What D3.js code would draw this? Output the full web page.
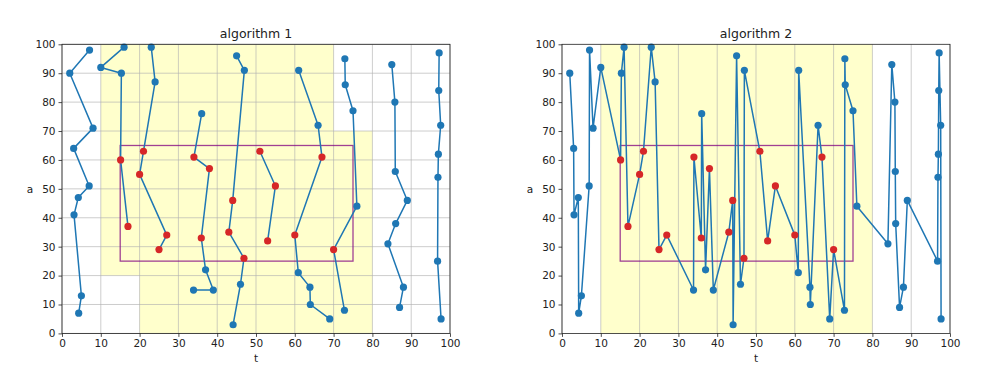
<!DOCTYPE html>
<html>
<head>
<meta charset="utf-8">
<script src="https://cdn.jsdelivr.net/npm/d3@7"></script>
<style>
  body { margin: 0; background: #fff; }
  text { font-family: "DejaVu Sans", sans-serif; }
</style>
</head>
<body>
<div id="chart"></div>
<script>
// point positions (t, a) and the column each belongs to
var tValues = [
  7.1, 2, 8, 3.0, 7.0, 4.2, 3.1, 5, 4.3,
  16, 10, 15.3, 15.1, 17,
  23, 24, 21, 20, 27, 25,
  36.0, 34.0, 38, 35.9, 37, 39, 33.9,
  45, 47.0, 44.0, 43, 46.9, 46, 44.1,
  51, 55, 53,
  61.0, 66, 67, 60, 60.9, 63.9, 64.0, 69,
  72.9, 73.0, 75, 76, 70, 72.8,
  85, 85.8, 85.9, 89, 86.0, 84, 88, 87,
  97.2, 97.1, 97.6, 97.0, 96.9, 96.8, 97.7
];
var aValues = [
  98, 90, 71, 64, 51, 47, 41, 13, 7,
  99, 92, 90, 60, 37,
  99, 87, 63, 55, 34, 29,
  76, 61, 57, 33, 22, 15, 15,
  96, 91, 46, 35, 26, 17, 3,
  63, 51, 32,
  91, 72, 61, 34, 21, 16, 10, 5,
  95, 86, 77, 44, 29, 8,
  93, 80, 56, 46, 38, 31, 16, 9,
  97, 84, 72, 62, 54, 25, 5
];
var columnIds = [
  0, 0, 0, 0, 0, 0, 0, 0, 0,
  1, 1, 1, 1, 1,
  2, 2, 2, 2, 2, 2,
  3, 3, 3, 3, 3, 3, 3,
  4, 4, 4, 4, 4, 4, 4,
  5, 5, 5,
  6, 6, 6, 6, 6, 6, 6, 6,
  7, 7, 7, 7, 7, 7,
  8, 8, 8, 8, 8, 8, 8, 8,
  9, 9, 9, 9, 9, 9, 9
];

var tickValues = [0, 10, 20, 30, 40, 50, 60, 70, 80, 90, 100];

// shaded zones (polygon corners)
var zone1T = [10, 70, 70, 80, 80, 20, 20, 10];
var zone1A = [100, 100, 70, 70, 0, 0, 20, 20];
var zone2T = [10, 80, 80, 10];
var zone2A = [100, 100, 0, 0];

// query box
var boxT = [15, 75];
var boxA = [25, 65];

var titles = ["algorithm 1", "algorithm 2"];

var points = tValues.map(function(t, i) {
  return {t: t, a: aValues[i], col: columnIds[i]};
});
points.forEach(function(d) {
  d.inBox = d.t >= boxT[0] && d.t <= boxT[1] && d.a >= boxA[0] && d.a <= boxA[1];
});

// algorithm 1: each column walked from top to bottom
var paths1 = d3.groups(points, function(d) { return d.col; })
  .map(function(g) { return g[1].slice().sort(function(p, q) { return q.a - p.a; }); });
// algorithm 2: everything walked by t
var paths2 = [points.slice().sort(function(p, q) { return p.t - q.t; })];

var width = 1000, height = 375;
var svg = d3.select("#chart").append("svg")
  .attr("width", width)
  .attr("height", height);

svg.append("rect").attr("width", width).attr("height", height).attr("fill", "#fff");

var panels = [
  {left: 62, title: titles[0], paths: paths1, zoneT: zone1T, zoneA: zone1A, hGrid: true},
  {left: 562, title: titles[1], paths: paths2, zoneT: zone2T, zoneA: zone2A, hGrid: false}
];
var plotW = 388, plotTop = 44.3, plotBottom = 333.4;

panels.forEach(function(p) {
  var x = d3.scaleLinear().domain([0, 100]).range([p.left, p.left + plotW]);
  var y = d3.scaleLinear().domain([0, 100]).range([plotBottom, plotTop]);
  var g = svg.append("g");

  // yellow zone
  var zone = p.zoneT.map(function(t, i) { return [x(t), y(p.zoneA[i])]; });
  g.append("path")
    .attr("d", "M" + zone.join("L") + "Z")
    .attr("fill", "#ffff00")
    .attr("fill-opacity", 0.2);

  // grid
  g.selectAll(".vgrid")
    .data(tickValues)
    .enter().append("line")
    .attr("x1", function(d) { return x(d); })
    .attr("x2", function(d) { return x(d); })
    .attr("y1", plotTop).attr("y2", plotBottom)
    .attr("stroke", "#b0b0b0")
    .attr("stroke-width", 0.8)
    .attr("stroke-opacity", 0.8);
  if (p.hGrid) {
    g.selectAll(".hgrid")
      .data(tickValues)
      .enter().append("line")
      .attr("y1", function(d) { return y(d); })
      .attr("y2", function(d) { return y(d); })
      .attr("x1", p.left).attr("x2", p.left + plotW)
      .attr("stroke", "#b0b0b0")
      .attr("stroke-width", 0.8)
      .attr("stroke-opacity", 0.8);
  }

  // query box
  g.append("rect")
    .attr("x", x(boxT[0]))
    .attr("y", y(boxA[1]))
    .attr("width", x(boxT[1]) - x(boxT[0]))
    .attr("height", y(boxA[0]) - y(boxA[1]))
    .attr("fill", "none")
    .attr("stroke", "#800080")
    .attr("stroke-opacity", 0.75)
    .attr("stroke-width", 1.3);

  var line = d3.line()
    .x(function(d) { return x(d.t); })
    .y(function(d) { return y(d.a); });

  g.selectAll(".walk")
    .data(p.paths)
    .enter().append("path")
    .attr("d", line)
    .attr("fill", "none")
    .attr("stroke", "#1f77b4")
    .attr("stroke-width", 1.5)
    .attr("stroke-linejoin", "round");

  g.selectAll(".dot")
    .data(points.filter(function(d) { return !d.inBox; }))
    .enter().append("circle")
    .attr("cx", function(d) { return x(d.t); })
    .attr("cy", function(d) { return y(d.a); })
    .attr("r", 3.6)
    .attr("fill", "#1f77b4");

  g.selectAll(".hit")
    .data(points.filter(function(d) { return d.inBox; }))
    .enter().append("circle")
    .attr("cx", function(d) { return x(d.t); })
    .attr("cy", function(d) { return y(d.a); })
    .attr("r", 3.6)
    .attr("fill", "#d62728");

  // frame
  g.append("rect")
    .attr("x", p.left).attr("y", plotTop)
    .attr("width", plotW).attr("height", plotBottom - plotTop)
    .attr("fill", "none")
    .attr("stroke", "#222")
    .attr("stroke-width", 0.8);

  var xAxis = g.append("g")
    .attr("transform", "translate(0," + plotBottom + ")")
    .call(d3.axisBottom(x).tickValues(tickValues).tickSize(3.5).tickPadding(3));
  var yAxis = g.append("g")
    .attr("transform", "translate(" + p.left + ",0)")
    .call(d3.axisLeft(y).tickValues(tickValues).tickSize(3.5).tickPadding(3));
  [xAxis, yAxis].forEach(function(ax) {
    ax.select(".domain").remove();
    ax.selectAll("line").attr("stroke", "#222").attr("stroke-width", 0.8);
    ax.selectAll("text")
      .attr("fill", "#222")
      .style("font-size", "10.5px")
      .style("font-family", "'DejaVu Sans', sans-serif");
  });

  g.append("text")
    .attr("x", p.left + plotW / 2)
    .attr("y", 38)
    .attr("text-anchor", "middle")
    .attr("fill", "#222")
    .style("font-size", "12.5px")
    .text(p.title);

  g.append("text")
    .attr("x", p.left + plotW / 2)
    .attr("y", 362)
    .attr("text-anchor", "middle")
    .attr("fill", "#222")
    .style("font-size", "10.5px")
    .text("t");

  g.append("text")
    .attr("x", p.left - 32)
    .attr("y", y(50) + 4)
    .attr("text-anchor", "middle")
    .attr("fill", "#222")
    .style("font-size", "10.5px")
    .text("a");
});
</script>
</body>
</html>
